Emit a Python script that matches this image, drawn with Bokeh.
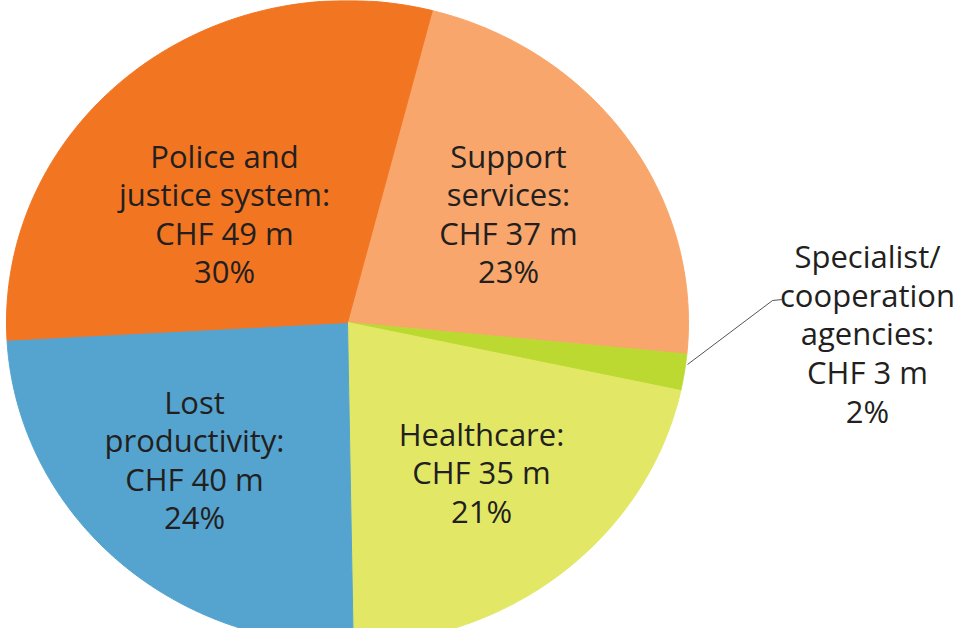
import numpy as np
from bokeh.plotting import figure
from bokeh.models import Range1d, ColumnDataSource
from bokeh.core.properties import value
from bokeh.embed import file_html
from bokeh.resources import INLINE

# ---- data (clockwise from the top boundary) ----
categories = ["Support services", "Specialist/ cooperation agencies", "Healthcare",
              "Lost productivity", "Police and justice system"]
values_chf = [37, 3, 35, 40, 49]
percents = [23, 2, 21, 24, 30]
label_names = ["Support\nservices:", "Specialist/\ncooperation\nagencies:", "Healthcare:",
               "Lost\nproductivity:", "Police and\njustice system:"]
colors = ["#F8A66B", "#BCD932", "#E2E866", "#55A4CF", "#F27522"]

# ---- layout (screen pixels of the page) ----
W, H = 957, 628
CX, CY, RX, RY = 355, 330, 341, 322
START_DEG = 14.4  # first boundary, clockwise from top


def to_data(sx, sy):
    return (sx - CX) / RX, (CY - sy) / RY


x0, y1 = to_data(8, 8)
x1, y0 = to_data(8 + W, 8 + H)

p = figure(width=W, height=H, output_backend="svg", toolbar_location=None,
           x_range=Range1d(x0, x1), y_range=Range1d(y0, y1), min_border=0)
p.axis.visible = False
p.grid.visible = False
p.outline_line_color = None
p.background_fill_color = "white"
p.border_fill_color = "white"

total = float(sum(values_chf))
cum = np.cumsum([0] + values_chf) / total * 360.0 + START_DEG
xs, ys = [], []
for i in range(len(values_chf)):
    th = np.radians(np.linspace(cum[i], cum[i + 1], 200))
    xs.append([0.0] + list(np.sin(th)) + [0.0])
    ys.append([0.0] + list(np.cos(th)) + [0.0])
p.patches(xs=xs, ys=ys, fill_color=colors, line_color=colors, line_width=1)

# labels
label_pos = [(516, 221), (875, 341), (489, 480), (202, 467), (232, 221)]
texts = [f"{n}\nCHF {v} m\n{pc}%" for n, v, pc in zip(label_names, values_chf, percents)]
lx, ly = zip(*[to_data(a, b) for a, b in label_pos])
src = ColumnDataSource(dict(x=list(lx), y=list(ly), t=texts))
p.text(x="x", y="y", text="t", source=src, text_font=value("Open Sans"),
       text_font_size="31px", text_align="center", text_baseline="middle",
       text_line_height=0.92, text_color="#231F20")

# leader line for the small slice
lead = [to_data(695, 372), to_data(780, 308), to_data(790, 307)]
p.line(x=[a for a, b in lead], y=[b for a, b in lead], line_color="#555555", line_width=1)

open("out.html", "w").write(file_html(p, INLINE))
